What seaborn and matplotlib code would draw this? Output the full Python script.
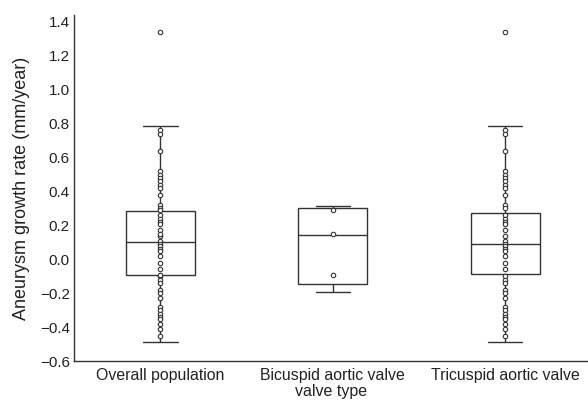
import pandas as pd
import matplotlib
matplotlib.use('Agg')
import matplotlib.pyplot as plt
from matplotlib.ticker import MultipleLocator
import seaborn as sns

# grupos y datos
grupos = ['Overall population', 'Bicuspid aortic valve', 'Tricuspid aortic valve']

# puntos individuales (mm/year)
bicuspid = [0.29, 0.15, -0.09]
tricuspid = [1.34, 0.76, 0.74, 0.64, 0.52, 0.50, 0.48, 0.46, 0.44, 0.42, 0.38,
             0.32, 0.30, 0.26, 0.24, 0.22, 0.21, 0.17, 0.14,
             0.11, 0.09, 0.08, 0.06, 0.05, 0.02, -0.02, -0.06, -0.10,
             -0.12, -0.14, -0.18, -0.20, -0.23, -0.28, -0.30, -0.32,
             -0.34, -0.35, -0.38, -0.41, -0.45]
overall = tricuspid + bicuspid

# resumen de las cajas: bigote inf, Q1, mediana, Q3, bigote sup
caja_overall = [-0.485, -0.09, 0.10, 0.285, 0.785]
caja_bicuspid = [-0.195, -0.145, 0.145, 0.30, 0.315]
caja_tricuspid = [-0.485, -0.088, 0.092, 0.275, 0.788]

df_pts = pd.DataFrame({
    'grupo': [grupos[0]] * len(overall) + [grupos[1]] * len(bicuspid) + [grupos[2]] * len(tricuspid),
    'valor': overall + bicuspid + tricuspid,
})
df_caja = pd.DataFrame({
    'grupo': [grupos[0]] * 5 + [grupos[1]] * 5 + [grupos[2]] * 5,
    'valor': caja_overall + caja_bicuspid + caja_tricuspid,
})

sns.set_style('white')
plt.rcParams['font.family'] = ['Liberation Sans', 'DejaVu Sans']
gris = '#333333'

fig, ax = plt.subplots(figsize=(5.88, 4.03), dpi=100)
fig.subplots_adjust(left=0.126, right=1.0, bottom=0.104, top=0.963)

sns.boxplot(data=df_caja, x='grupo', y='valor', order=grupos, width=0.4,
            color='white', linecolor=gris, linewidth=1.0, whis=(0, 100),
            showfliers=False, ax=ax)
sns.stripplot(data=df_pts, x='grupo', y='valor', order=grupos, jitter=False,
              color='white', edgecolor=gris, linewidth=0.8, size=3.2,
              zorder=3, ax=ax)

ax.set_xlim(-0.5, 2.48)
ax.set_ylim(-0.6, 1.441)
ax.yaxis.set_major_locator(MultipleLocator(0.2))
sns.despine(ax=ax)
for s in ['left', 'bottom']:
    ax.spines[s].set_color(gris)
    ax.spines[s].set_linewidth(1.0)

ax.tick_params(axis='both', length=0, colors='#222222')
ax.tick_params(axis='y', pad=3, labelsize=11)
ax.tick_params(axis='x', pad=5, labelsize=11.4)
ax.set_xlabel('valve type', fontsize=11.5, color='#222222', labelpad=1)
ax.set_ylabel('Aneurysm growth rate (mm/year)', fontsize=13, color='#222222', labelpad=7)

plt.savefig('out.png', dpi=100)
